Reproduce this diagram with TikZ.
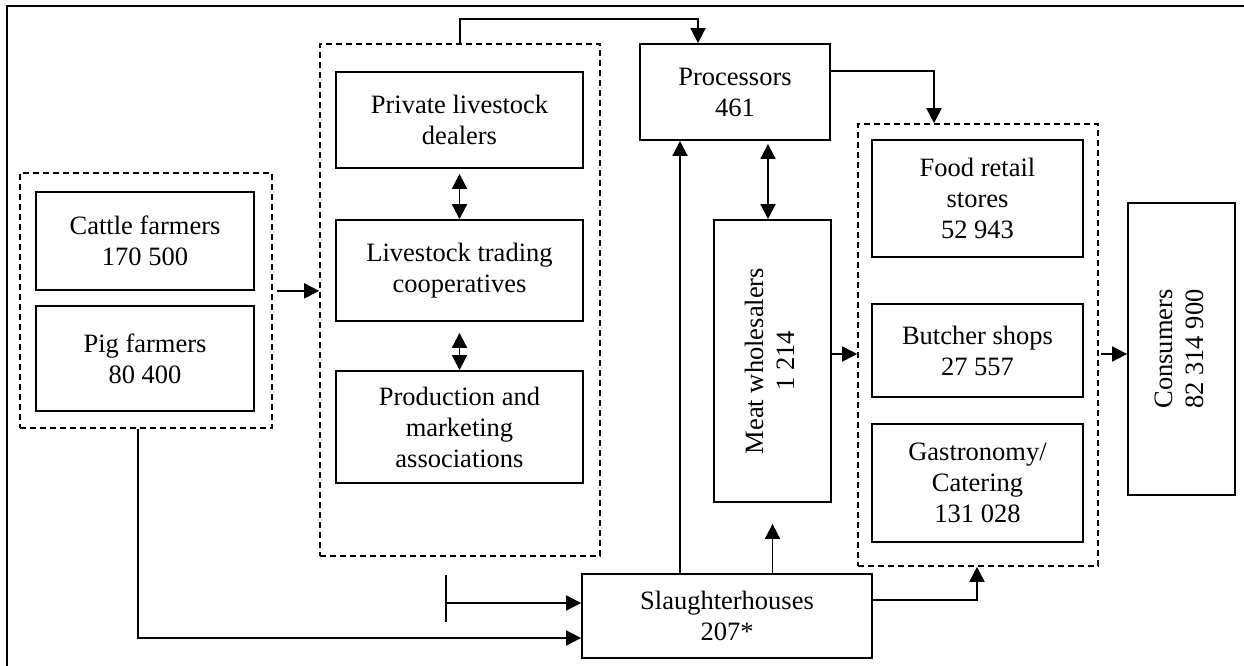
\documentclass[tikz,border=0pt]{standalone}
\usepackage{fontspec}
\setmainfont{Liberation Serif}
\usetikzlibrary{arrows.meta}
\tikzset{
    box/.style={draw, line width=1.8pt, align=center, inner sep=0pt},
    grp/.style={draw, line width=1.6pt, dash pattern=on 6pt off 4pt, inner sep=0pt},
    conn/.style={line width=1.8pt},
}
\begin{document}
\begin{tikzpicture}[x=1pt, y=-1pt, >={Triangle[length=15pt,width=15pt]},
    font=\fontsize{26.5}{31}\selectfont]
    \useasboundingbox (0,0) rectangle (1244,666);
    \draw [line width=2.2pt] (7,666) -- (7,6) -- (1244,6);

    \node [grp, minimum width=252pt, minimum height=255pt] (farmgrp) at (146,300.5) {};
    \node [box, minimum width=218pt, minimum height=98pt] (cattle) at (145,241) {Cattle farmers\\170 500};
    \node [box, minimum width=218pt, minimum height=105pt] (pig) at (145,358.5) {Pig farmers\\80 400};

    \node [grp, minimum width=280pt, minimum height=512pt] (tradegrp) at (460,300) {};
    \node [box, minimum width=247pt, minimum height=96pt] (dealers) at (459.5,120) {Private livestock\\dealers};
    \node [box, minimum width=247pt, minimum height=101pt] (coops) at (459.5,270.5) {Livestock trading\\cooperatives};
    \node [box, minimum width=247pt, minimum height=112pt] (prodassoc) at (459.5,427) {Production and\\marketing\\associations};

    \node [box, minimum width=190pt, minimum height=96pt] (proc) at (735,92) {Processors\\461};
    \node [box, minimum width=117pt, minimum height=282pt] (whole) at (772.5,361)
        {\rotatebox{90}{\begin{tabular}{@{}c@{}}Meat wholesalers\\1 214\end{tabular}}};
    \node [box, minimum width=290pt, minimum height=84pt] (slaught) at (727,616) {Slaughterhouses\\207*};

    \node [grp, minimum width=240pt, minimum height=442pt] (retailgrp) at (978,345) {};
    \node [box, minimum width=211pt, minimum height=117pt] (food) at (977.5,198.5) {Food retail\\stores\\52 943};
    \node [box, minimum width=211pt, minimum height=93pt] (butcher) at (977.5,350.5) {Butcher shops\\27 557};
    \node [box, minimum width=211pt, minimum height=118pt] (gastro) at (977.5,483) {Gastronomy/\\Catering\\131 028};

    \node [box, minimum width=107pt, minimum height=292pt] (consum) at (1181.5,349)
        {\rotatebox{90}{\begin{tabular}{@{}c@{}}Consumers\\82 314 900\end{tabular}}};

    \draw [conn, ->] ([xshift=4pt]farmgrp.east |- cattle.south) -- (tradegrp.west |- cattle.south);
    \draw [conn, <->] ([yshift=-5pt]dealers.south) -- (coops.north);
    \draw [conn, <->] ([yshift=-11pt]coops.south) -- (prodassoc.north);
    \draw [conn, ->] (tradegrp.north) -- ++(0,-24) -| ([xshift=-37pt]proc.north);
    \draw [conn, ->] ([yshift=-28pt]proc.north east) -| ([xshift=-44pt]retailgrp.north);
    \draw [conn, ->] ([xshift=-47pt]slaught.north) -- ([xshift=-55pt]proc.south);
    \draw [conn, <->] ([xshift=33pt,yshift=-3pt]proc.south) -- ([xshift=33pt]proc.south |- whole.north);
    \draw [conn, ->] (slaught.north -| whole.south) -- ([yshift=-21pt]whole.south);
    \draw [conn, ->] ([yshift=7pt]whole.east) -- ([yshift=7pt]whole.east -| retailgrp.west);
    \draw [conn, ->] ([xshift=2pt,yshift=-5pt]retailgrp.east |- consum.west) -- ([yshift=-5pt]consum.west);
    \draw [conn, ->] ([yshift=16pt]slaught.east) -| ([xshift=-1pt]retailgrp.south);
    \draw [conn, ->] ([xshift=-8pt]farmgrp.south) |- ([yshift=-22pt]slaught.west);

    \coordinate (bar) at (446,603);
    \draw [conn] (446,575) -- (446,622);
    \draw [conn, ->] (bar) -- (bar -| slaught.west);
\end{tikzpicture}
\end{document}
